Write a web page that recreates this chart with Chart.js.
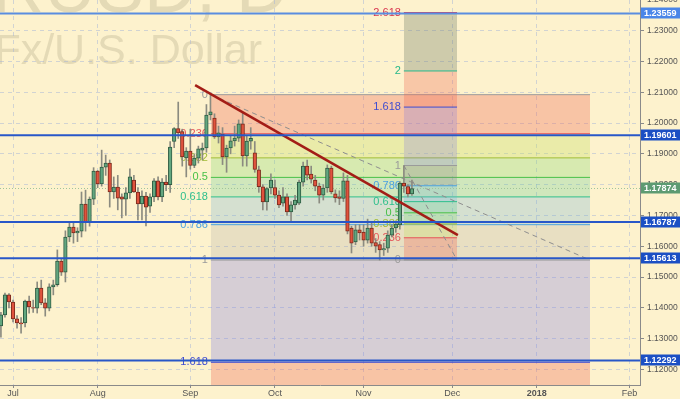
<!DOCTYPE html>
<html>
<head>
<meta charset="utf-8">
<script src="https://cdn.jsdelivr.net/npm/chart.js@4.4.0/dist/chart.umd.min.js"></script>
<style>
  html, body { margin: 0; padding: 0; background: #fdf2cd; }
  #chart { display: block; }
</style>
</head>
<body>
<canvas id="chart" width="680" height="399" style="width:680px;height:399px"></canvas>
<script>
// --- data (daily bars, index 0 = 3 Jul 2017, weekdays only) ---
const firstBar = -3;
const opens  = [1.1341,1.1377,1.1442,1.1419,1.1364,1.1351,1.1351,1.1422,1.1401,1.1399,1.1464,1.1416,1.1399,1.1468,1.1475,1.1552,1.1516,1.1630,1.1662,1.1643,1.1649,1.1737,1.1679,1.1753,1.1844,1.1802,1.1857,1.1870,1.1776,1.1792,1.1760,1.1753,1.1773,1.1815,1.1776,1.1737,1.1763,1.1730,1.1760,1.1812,1.1760,1.1808,1.1800,1.1940,1.1982,1.1972,1.1887,1.1909,1.1862,1.1886,1.1912,1.1919,1.2026,1.2016,1.1955,1.1964,1.1890,1.1919,1.1942,1.1951,1.1997,1.1893,1.1941,1.1903,1.1848,1.1793,1.1744,1.1789,1.1790,1.1766,1.1740,1.1760,1.1711,1.1734,1.1740,1.1808,1.1860,1.1834,1.1815,1.1795,1.1766,1.1789,1.1854,1.1770,1.1760,1.1755,1.1812,1.1659,1.1614,1.1653,1.1646,1.1620,1.1659,1.1612,1.1605,1.1588,1.1594,1.1636,1.1659,1.1669,1.1805,1.1794,1.1770];
const highs  = [1.1385,1.1448,1.1446,1.1425,1.1375,1.1368,1.1425,1.1438,1.1425,1.1484,1.1490,1.1430,1.1478,1.1490,1.1588,1.1560,1.1650,1.1680,1.1680,1.1660,1.1776,1.1782,1.1760,1.1855,1.1846,1.1912,1.1896,1.1880,1.1825,1.1830,1.1770,1.1790,1.1851,1.1830,1.1790,1.1780,1.1775,1.1770,1.1820,1.1825,1.1820,1.1830,1.1940,1.1985,1.2068,1.1980,1.1920,1.1980,1.1897,1.1925,1.1935,1.2060,1.2092,1.2030,1.1990,1.1985,1.1928,1.1960,1.1990,1.2010,1.2034,1.1960,1.1985,1.1940,1.1860,1.1800,1.1790,1.1835,1.1815,1.1780,1.1790,1.1770,1.1745,1.1765,1.1815,1.1873,1.1880,1.1860,1.1830,1.1805,1.1800,1.1864,1.1860,1.1783,1.1780,1.1838,1.1830,1.1665,1.1670,1.1670,1.1670,1.1688,1.1680,1.1625,1.1615,1.1610,1.1650,1.1670,1.1680,1.1810,1.1862,1.1800,1.1815];
const lows   = [1.1305,1.1370,1.1400,1.1354,1.1334,1.1318,1.1338,1.1383,1.1385,1.1383,1.1410,1.1373,1.1390,1.1442,1.1470,1.1505,1.1484,1.1615,1.1610,1.1615,1.1630,1.1649,1.1665,1.1735,1.1790,1.1795,1.1830,1.1727,1.1755,1.1718,1.1692,1.1700,1.1755,1.1775,1.1685,1.1685,1.1666,1.1710,1.1745,1.1750,1.1745,1.1780,1.1775,1.1920,1.1950,1.1860,1.1825,1.1850,1.1855,1.1870,1.1880,1.1905,1.2010,1.1950,1.1935,1.1865,1.1840,1.1900,1.1925,1.1940,1.1860,1.1860,1.1915,1.1840,1.1775,1.1718,1.1717,1.1770,1.1755,1.1725,1.1730,1.1700,1.1680,1.1720,1.1735,1.1795,1.1815,1.1805,1.1780,1.1740,1.1750,1.1775,1.1770,1.1743,1.1735,1.1745,1.1640,1.1578,1.1605,1.1620,1.1600,1.1610,1.1600,1.1580,1.1555,1.1570,1.1580,1.1630,1.1645,1.1655,1.1775,1.1760,1.1765];
const closes = [1.1377,1.1442,1.1419,1.1364,1.1351,1.1348,1.1422,1.1403,1.1399,1.1464,1.1416,1.1399,1.1468,1.1475,1.1552,1.1516,1.1630,1.1662,1.1643,1.1649,1.1737,1.1679,1.1753,1.1844,1.1802,1.1857,1.1870,1.1776,1.1792,1.1756,1.1753,1.1773,1.1825,1.1776,1.1737,1.1763,1.1727,1.1760,1.1812,1.1760,1.1808,1.1800,1.1922,1.1982,1.1968,1.1890,1.1909,1.1862,1.1886,1.1916,1.1919,1.2026,1.2036,1.1955,1.1968,1.1890,1.1919,1.1942,1.1951,1.1997,1.1893,1.1941,1.1950,1.1849,1.1793,1.1744,1.1787,1.1815,1.1766,1.1734,1.1760,1.1711,1.1734,1.1750,1.1808,1.1860,1.1831,1.1818,1.1795,1.1766,1.1789,1.1854,1.1776,1.1757,1.1755,1.1812,1.1649,1.1610,1.1653,1.1643,1.1620,1.1659,1.1610,1.1600,1.1588,1.1592,1.1636,1.1659,1.1672,1.1805,1.1795,1.1770,1.1787];

const monthTicks  = [0, 21, 44, 65, 87, 109, 130, 153];
const monthLabels = ['Jul', 'Aug', 'Sep', 'Oct', 'Nov', 'Dec', '2018', 'Feb'];
const priceTicks  = [1.12, 1.13, 1.14, 1.15, 1.16, 1.17, 1.18, 1.19, 1.20, 1.21, 1.22, 1.23, 1.24];

const levelPrices = [1.23559, 1.19601, 1.16787, 1.15613, 1.12292];
const lastPrice = 1.17874;

// fib retracement: x anchors (bar index), price at level 0 and level 1
const fibRetrX = [49.1, 143.2];
const fibRetrP = [1.2092, 1.1555];
const fibRetrLevels = [0, 0.236, 0.382, 0.5, 0.618, 0.786, 1, 1.618, 2.618];

// fib extension
const fibExtX = [97, 110.2];
const fibExtP = [1.1555, 1.1862];
const fibExtLevels = [0, 0.236, 0.382, 0.5, 0.618, 0.786, 1, 1.618, 2, 2.618];

// trend line
const trendX = [45.2, 110.4];
const trendP = [1.2123, 1.1636];

const symbolTitle = ['EURUSD, D', 'Euro Fx/U.S. Dollar'];

// --- styles ---
const FONT = '"Liberation Sans", Arial, sans-serif';
const xMin = -3.23, xMax = 155.6;
const yMin = 1.11494, yMax = 1.23994;

const fibLineColor = {
  0: '#9a9a9a', 0.236: '#e4565a', 0.382: '#a3bd36', 0.5: '#48c048', 0.618: '#2ebf8c',
  0.786: '#4ba2e0', 1: '#9a9a9a', 1.618: '#3f4cd0', 2: '#26b88a', 2.618: '#d9364f'
};
const retrBand = {
  0.236: 'rgba(240,100,80,0.32)', 0.382: 'rgba(195,222,100,0.34)', 0.5: 'rgba(130,215,110,0.3)',
  0.618: 'rgba(80,200,140,0.26)', 0.786: 'rgba(100,175,215,0.26)', 1: 'rgba(150,150,150,0.2)',
  1.618: 'rgba(110,110,235,0.27)', 2.618: 'rgba(240,100,80,0.32)'
};
const extBand = {
  0.236: 'rgba(240,100,80,0.3)', 0.382: 'rgba(195,222,100,0.3)', 0.5: 'rgba(130,215,110,0.28)',
  0.618: 'rgba(80,200,140,0.25)', 0.786: 'rgba(100,175,215,0.25)', 1: 'rgba(130,130,140,0.3)',
  1.618: 'rgba(120,110,230,0.24)', 2: 'rgba(240,100,80,0.3)', 2.618: 'rgba(110,120,100,0.32)'
};
const levelLineColors = ['#5a8de0', '#2857c8', '#2857c8', '#2857c8', '#2857c8'];
const levelTagColors  = ['#4a86e8', '#1b4fc4', '#1b4fc4', '#1b4fc4', '#1b4fc4'];

// --- datasets ---
const idx = opens.map((_, k) => firstBar + k);
const up = k => closes[k] >= opens[k];

function fibPrice(p, level) { return p[0] + level * (p[1] - p[0]); }

function fibSets(xs, p, levels, bands, order) {
  return levels.map((lv, k) => ({
    type: 'line',
    order,
    data: [{x: xs[0], y: fibPrice(p, lv)}, {x: xs[1], y: fibPrice(p, lv)}],
    borderColor: fibLineColor[lv],
    borderWidth: 1,
    pointRadius: 0,
    backgroundColor: bands[lv] || 'transparent',
    fill: k > 0 ? {value: fibPrice(p, levels[k - 1])} : false
  }));
}

const datasets = [
  {
    label: 'bodies', order: 1,
    data: idx.map((x, k) => ({x, y: [opens[k], closes[k]]})),
    backgroundColor: idx.map((_, k) => up(k) ? '#62a67f' : '#e0533d'),
    borderColor: idx.map((_, k) => up(k) ? '#2f5c43' : '#7c2a1c'),
    borderWidth: 1, borderSkipped: false, barThickness: 3.6, grouped: false
  },
  {
    label: 'wicks', order: 2,
    data: idx.map((x, k) => ({x, y: [lows[k], highs[k]]})),
    backgroundColor: '#8b8b80', borderWidth: 0, barThickness: 1, grouped: false
  },
  ...levelPrices.map((p, k) => ({
    type: 'line', order: 0,
    data: [{x: xMin, y: p}, {x: xMax, y: p}],
    borderColor: levelLineColors[k], borderWidth: 2, pointRadius: 0
  })),
  {
    type: 'line', order: 0,
    data: [{x: trendX[0], y: trendP[0]}, {x: trendX[1], y: trendP[1]}],
    borderColor: '#a31d16', borderWidth: 2.5, pointRadius: 0
  },
  {
    type: 'line', order: 3,
    data: [{x: xMin, y: lastPrice}, {x: xMax, y: lastPrice}],
    borderColor: '#9fc49a', borderWidth: 1, borderDash: [1, 2], pointRadius: 0
  },
  {
    type: 'line', order: 4,
    data: [{x: fibRetrX[0], y: fibRetrP[0]}, {x: fibRetrX[1], y: fibRetrP[1]}],
    borderColor: '#8e8e8e', borderWidth: 1, borderDash: [5, 4], pointRadius: 0
  },
  {
    type: 'line', order: 4,
    data: [{x: fibExtX[0], y: fibExtP[1]}, {x: fibExtX[1], y: fibExtP[0]}],
    borderColor: '#8e8e8e', borderWidth: 1, borderDash: [5, 4], pointRadius: 0
  },
  ...fibSets(fibExtX, fibExtP, fibExtLevels, extBand, 6),
  ...fibSets(fibRetrX, fibRetrP, fibRetrLevels, retrBand, 7)
];

// --- plugins ---
const backdrop = {
  id: 'backdrop',
  beforeDraw(chart) {
    const {ctx, width, height} = chart;
    ctx.save();
    ctx.fillStyle = '#fdf2cd';
    ctx.fillRect(0, 0, width, height);
    ctx.fillStyle = 'rgba(140,130,100,0.22)';
    ctx.textAlign = 'right';
    ctx.textBaseline = 'alphabetic';
    ctx.font = '72px ' + FONT;
    ctx.fillText(symbolTitle[0], 288, 12);
    ctx.font = '43px ' + FONT;
    ctx.fillText(symbolTitle[1], 262, 64);
    ctx.restore();
  }
};

function fibLabels(ctx, xs, ys, xsArr, p, levels) {
  const x = xs.getPixelForValue(xsArr[0]) - 3;
  levels.forEach(lv => {
    const y = ys.getPixelForValue(fibPrice(p, lv));
    ctx.fillStyle = fibLineColor[lv];
    ctx.fillText(String(lv), x, y);
  });
}

const annotations = {
  id: 'annotations',
  beforeDatasetDraw(chart, args) {
    if (chart.data.datasets[args.index].label !== 'wicks') return;
    const {ctx, scales: {x, y}} = chart;
    ctx.save();
    ctx.font = '11px ' + FONT;
    ctx.textAlign = 'right';
    ctx.textBaseline = 'middle';
    fibLabels(ctx, x, y, fibRetrX, fibRetrP, fibRetrLevels);
    fibLabels(ctx, x, y, fibExtX, fibExtP, fibExtLevels);
    ctx.restore();
  },
  afterDraw(chart) {
    const {ctx, chartArea, scales: {y}} = chart;
    ctx.save();
    ctx.font = 'bold 9px ' + FONT;
    ctx.textAlign = 'left';
    ctx.textBaseline = 'middle';
    const tag = (p, color) => {
      const py = Math.round(y.getPixelForValue(p));
      ctx.fillStyle = color;
      ctx.fillRect(chartArea.right + 1, py - 5.5, 40, 11);
      ctx.fillStyle = '#ffffff';
      ctx.fillText(p.toFixed(5), chartArea.right + 4, py + 0.5);
    };
    levelPrices.forEach((p, k) => tag(p, levelTagColors[k]));
    tag(lastPrice, '#5d9b72');
    ctx.restore();
  }
};

const gridColor = 'rgba(165,180,215,0.5)';

new Chart(document.getElementById('chart'), {
  type: 'bar',
  data: { datasets },
  plugins: [backdrop, annotations],
  options: {
    responsive: false,
    animation: false,
    events: [],
    layout: { padding: 0 },
    plugins: { legend: { display: false }, tooltip: { enabled: false } },
    scales: {
      x: {
        type: 'linear', min: xMin, max: xMax, offset: false,
        afterBuildTicks: s => { s.ticks = monthTicks.map(v => ({ value: v })); },
        afterFit: s => { s.height = 14; s.paddingLeft = 0; s.paddingRight = 0; },
        ticks: {
          autoSkip: false, maxRotation: 0, padding: 0, color: '#555',
          font: ctx => ({ family: FONT, size: 9, weight: /^\d{4}$/.test(monthLabels[ctx.index]) ? 'bold' : 'normal' }),
          callback: (v, i) => monthLabels[i]
        },
        grid: { color: gridColor, tickLength: 3, tickColor: '#8a8a8a', offset: false },
        border: { color: '#8a8a8a', dash: [4, 4] }
      },
      y: {
        position: 'right', min: yMin, max: yMax,
        afterBuildTicks: s => { s.ticks = priceTicks.map(v => ({ value: v })); },
        afterFit: s => { s.width = 40; s.paddingTop = 0; s.paddingBottom = 0; },
        ticks: {
          autoSkip: false, padding: 3, color: '#555',
          font: { family: FONT, size: 8.5 },
          callback: v => v.toFixed(5)
        },
        grid: { color: gridColor, tickLength: 4, tickColor: '#8a8a8a' },
        border: { color: '#8a8a8a', dash: [4, 4] }
      }
    }
  }
});
</script>
</body>
</html>
